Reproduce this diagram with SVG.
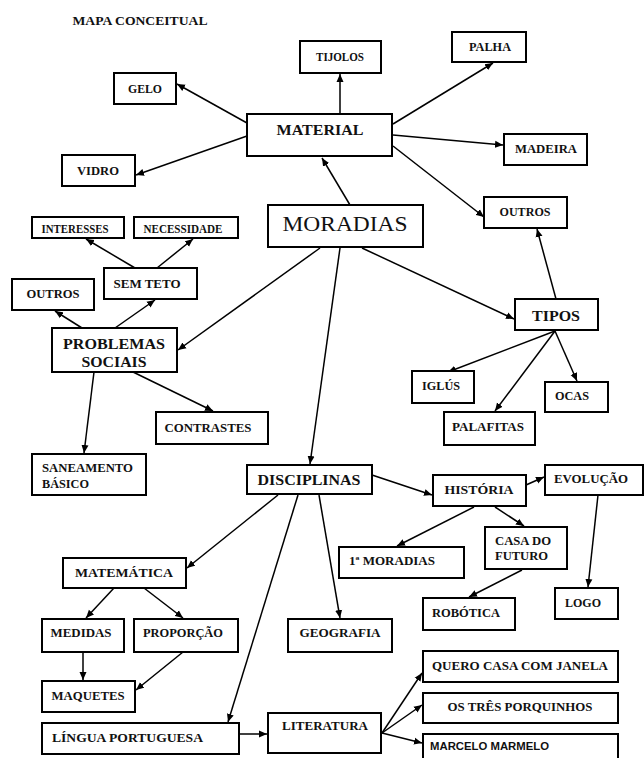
<svg xmlns="http://www.w3.org/2000/svg" width="644" height="758" viewBox="0 0 644 758">
<style>
rect{fill:#fff;stroke:#000;stroke-width:2}
text{font-family:"Liberation Serif","Times New Roman",serif;font-weight:bold;fill:#111;font-size:11.5px}
.c{text-anchor:middle}
.big{font-size:15.5px}
.huge{font-size:22px;font-weight:normal}
.sans{font-family:"Liberation Sans",Arial,sans-serif;font-weight:bold;font-size:11px}
#connectors line{stroke:#000;stroke-width:1.5;marker-end:url(#ah)}
</style>
<defs>
<marker id="ah" markerUnits="userSpaceOnUse" markerWidth="9" markerHeight="8" refX="8" refY="4" orient="auto">
<path d="M0,0.5 L8,4 L0,7.5 z" fill="#000"/>
</marker>
</defs>
<rect x="0" y="0" width="644" height="758" style="stroke:none"/>
<text x="140" y="25" class="c" textLength="135" lengthAdjust="spacingAndGlyphs">MAPA CONCEITUAL</text>

<g id="connectors">
<line x1="350" y1="205" x2="322" y2="158"/>
<line x1="340" y1="114" x2="340" y2="74"/>
<line x1="393" y1="124" x2="493" y2="63"/>
<line x1="393" y1="135" x2="503" y2="145"/>
<line x1="393" y1="146" x2="484" y2="217"/>
<line x1="247" y1="123" x2="177" y2="84"/>
<line x1="247" y1="136" x2="136" y2="175"/>
<line x1="320" y1="248" x2="178" y2="350"/>
<line x1="340" y1="248" x2="310" y2="464"/>
<line x1="362" y1="248" x2="514" y2="319"/>
<line x1="556" y1="299" x2="537" y2="229"/>
<line x1="555" y1="331" x2="448" y2="372"/>
<line x1="555" y1="331" x2="495" y2="411"/>
<line x1="555" y1="331" x2="577" y2="381"/>
<line x1="135" y1="268" x2="86" y2="239"/>
<line x1="157" y1="268" x2="193" y2="239"/>
<line x1="82" y1="328" x2="55" y2="311"/>
<line x1="115" y1="328" x2="155" y2="300"/>
<line x1="94" y1="372" x2="84" y2="453"/>
<line x1="133" y1="372" x2="213" y2="411"/>
<line x1="278" y1="495" x2="187" y2="568"/>
<line x1="298" y1="495" x2="228" y2="722"/>
<line x1="319" y1="495" x2="340" y2="618"/>
<line x1="372" y1="475" x2="432" y2="495"/>
<line x1="526" y1="485" x2="544" y2="477"/>
<line x1="474" y1="507" x2="397" y2="546"/>
<line x1="495" y1="507" x2="524" y2="526"/>
<line x1="522" y1="570" x2="469" y2="597"/>
<line x1="598" y1="495" x2="588" y2="587"/>
<line x1="114" y1="588" x2="86" y2="618"/>
<line x1="144" y1="588" x2="183" y2="618"/>
<line x1="83" y1="652" x2="83" y2="680"/>
<line x1="183" y1="652" x2="136" y2="690"/>
<line x1="239" y1="734" x2="267" y2="734"/>
<line x1="382" y1="733" x2="422" y2="673"/>
<line x1="382" y1="733" x2="422" y2="705"/>
<line x1="382" y1="733" x2="422" y2="743"/>
</g>

<g id="gelo"><rect x="114" y="73" width="62" height="31"/><text x="145" y="93" class="c" textLength="34" lengthAdjust="spacingAndGlyphs">GELO</text></g>
<g id="tijolos"><rect x="300" y="41" width="81" height="32"/><text x="340" y="61" class="c" textLength="48" lengthAdjust="spacingAndGlyphs">TIJOLOS</text></g>
<g id="palha"><rect x="452" y="32" width="74" height="30"/><text x="490" y="51" class="c" textLength="42" lengthAdjust="spacingAndGlyphs">PALHA</text></g>
<g id="material"><rect x="247" y="114" width="145" height="42"/><text x="320" y="135" class="c big" textLength="87" lengthAdjust="spacingAndGlyphs">MATERIAL</text></g>
<g id="madeira"><rect x="504" y="134" width="83" height="31"/><text x="546" y="153" class="c" textLength="62" lengthAdjust="spacingAndGlyphs">MADEIRA</text></g>
<g id="vidro"><rect x="62" y="155" width="73" height="31"/><text x="98" y="175" class="c" textLength="42" lengthAdjust="spacingAndGlyphs">VIDRO</text></g>
<g id="outros-material"><rect x="484" y="197" width="83" height="31"/><text x="525" y="216" class="c" textLength="51" lengthAdjust="spacingAndGlyphs">OUTROS</text></g>
<g id="moradias"><rect x="268" y="205" width="155" height="42"/><text x="345" y="231" class="c huge" textLength="125" lengthAdjust="spacingAndGlyphs">MORADIAS</text></g>
<g id="interesses"><rect x="32" y="217" width="92" height="21"/><text x="75" y="233" class="c" textLength="67" lengthAdjust="spacingAndGlyphs">INTERESSES</text></g>
<g id="necessidade"><rect x="134" y="217" width="104" height="21"/><text x="183" y="233" class="c" textLength="79" lengthAdjust="spacingAndGlyphs">NECESSIDADE</text></g>
<g id="sem-teto"><rect x="104" y="268" width="93" height="31"/><text x="147" y="288" class="c" textLength="67" lengthAdjust="spacingAndGlyphs">SEM TETO</text></g>
<g id="outros-sociais"><rect x="12" y="279" width="82" height="31"/><text x="53" y="298" class="c" textLength="53" lengthAdjust="spacingAndGlyphs">OUTROS</text></g>
<g id="problemas-sociais"><rect x="52" y="328" width="125" height="44"/><text x="114" y="349" class="c big" textLength="102" lengthAdjust="spacingAndGlyphs">PROBLEMAS</text><text x="114" y="367" class="c big" textLength="65" lengthAdjust="spacingAndGlyphs">SOCIAIS</text></g>
<g id="tipos"><rect x="515" y="299" width="83" height="31"/><text x="556" y="321" class="c big" textLength="48" lengthAdjust="spacingAndGlyphs">TIPOS</text></g>
<g id="contrastes"><rect x="156" y="412" width="112" height="32"/><text x="208" y="432" class="c" textLength="87" lengthAdjust="spacingAndGlyphs">CONTRASTES</text></g>
<g id="iglus"><rect x="412" y="371" width="62" height="32"/><text x="441" y="390" class="c" textLength="38" lengthAdjust="spacingAndGlyphs">IGLÚS</text></g>
<g id="ocas"><rect x="545" y="382" width="63" height="30"/><text x="572" y="400" class="c" textLength="34" lengthAdjust="spacingAndGlyphs">OCAS</text></g>
<g id="palafitas"><rect x="444" y="412" width="91" height="33"/><text x="488" y="431" class="c" textLength="72" lengthAdjust="spacingAndGlyphs">PALAFITAS</text></g>
<g id="saneamento-basico"><rect x="32" y="454" width="114" height="41"/><text x="42" y="472" textLength="91" lengthAdjust="spacingAndGlyphs">SANEAMENTO</text><text x="42" y="488" textLength="47" lengthAdjust="spacingAndGlyphs">BÁSICO</text></g>
<g id="disciplinas"><rect x="247" y="465" width="125" height="29"/><text x="309" y="485" class="c big" textLength="103" lengthAdjust="spacingAndGlyphs">DISCIPLINAS</text></g>
<g id="historia"><rect x="433" y="475" width="93" height="31"/><text x="479" y="494" class="c" textLength="69" lengthAdjust="spacingAndGlyphs">HISTÓRIA</text></g>
<g id="evolucao"><rect x="545" y="465" width="98" height="30"/><text x="591" y="483" class="c" textLength="74" lengthAdjust="spacingAndGlyphs">EVOLUÇÃO</text></g>
<g id="casa-do-futuro"><rect x="485" y="527" width="82" height="42"/><text x="495" y="545" textLength="56" lengthAdjust="spacingAndGlyphs">CASA DO</text><text x="495" y="560" textLength="53" lengthAdjust="spacingAndGlyphs">FUTURO</text></g>
<g id="primeiras-moradias"><rect x="339" y="547" width="125" height="31"/><text x="349" y="565" textLength="86" lengthAdjust="spacingAndGlyphs">1ª MORADIAS</text></g>
<g id="matematica"><rect x="63" y="558" width="123" height="30"/><text x="124" y="577" class="c" textLength="98" lengthAdjust="spacingAndGlyphs">MATEMÁTICA</text></g>
<g id="medidas"><rect x="42" y="619" width="82" height="33"/><text x="81" y="637" class="c" textLength="61" lengthAdjust="spacingAndGlyphs">MEDIDAS</text></g>
<g id="proporcao"><rect x="134" y="619" width="104" height="33"/><text x="183" y="637" class="c" textLength="80" lengthAdjust="spacingAndGlyphs">PROPORÇÃO</text></g>
<g id="geografia"><rect x="288" y="619" width="104" height="33"/><text x="340" y="637" class="c" textLength="81" lengthAdjust="spacingAndGlyphs">GEOGRAFIA</text></g>
<g id="robotica"><rect x="423" y="598" width="92" height="32"/><text x="466" y="617" class="c" textLength="68" lengthAdjust="spacingAndGlyphs">ROBÓTICA</text></g>
<g id="logo"><rect x="555" y="588" width="63" height="31"/><text x="583" y="607" class="c" textLength="36" lengthAdjust="spacingAndGlyphs">LOGO</text></g>
<g id="maquetes"><rect x="42" y="681" width="93" height="31"/><text x="88" y="700" class="c" textLength="73" lengthAdjust="spacingAndGlyphs">MAQUETES</text></g>
<g id="quero-casa"><rect x="423" y="651" width="195" height="31"/><text x="520" y="670" class="c" textLength="176" lengthAdjust="spacingAndGlyphs">QUERO CASA COM JANELA</text></g>
<g id="tres-porquinhos"><rect x="423" y="693" width="195" height="30"/><text x="520" y="711" class="c" textLength="145" lengthAdjust="spacingAndGlyphs">OS TRÊS PORQUINHOS</text></g>
<g id="marcelo-marmelo"><rect x="423" y="734" width="195" height="30"/><text x="430" y="750" class="sans" textLength="119" lengthAdjust="spacingAndGlyphs">MARCELO MARMELO</text></g>
<g id="lingua-portuguesa"><rect x="42" y="723" width="197" height="31"/><text x="52" y="742" textLength="151" lengthAdjust="spacingAndGlyphs">LÍNGUA PORTUGUESA</text></g>
<g id="literatura"><rect x="268" y="713" width="113" height="40"/><text x="325" y="730" class="c" textLength="86" lengthAdjust="spacingAndGlyphs">LITERATURA</text></g>
</svg>
